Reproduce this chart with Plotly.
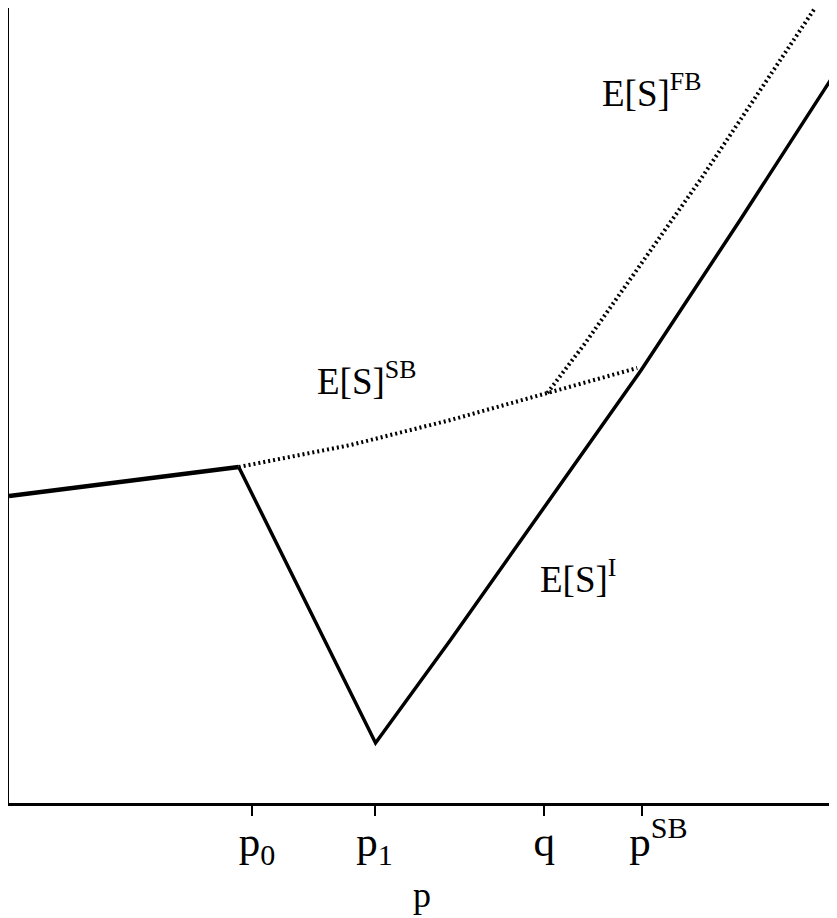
import plotly.graph_objects as go

# Abstract model values (x = p, y = expected surplus)
x_I = [0.0, 2.30, 3.67, 4.42, 5.35, 6.33, 7.32, 8.29]
y_I = [3.07, 3.36, 0.60, 1.63, 2.95, 4.33, 5.83, 7.33]

x_SB = [2.30, 3.42, 4.42, 5.39, 6.29]
y_SB = [3.36, 3.58, 3.83, 4.10, 4.35]

x_FB = [5.39, 5.77, 6.92, 8.07]
y_FB = [4.10, 4.60, 6.23, 7.95]

tick_vals = [2.43, 3.66, 5.36, 6.34]
tick_text = ["&nbsp;p<sub>0</sub>", "p<sub>1</sub>", "q", "&nbsp;&nbsp;&nbsp;p<sup>SB</sup>"]

font = "Liberation Serif"

fig = go.Figure()
fig.add_trace(go.Scatter(x=x_SB, y=y_SB, mode="lines",
                         line=dict(color="black", width=4, dash="2px,3px"),
                         hoverinfo="skip"))
fig.add_trace(go.Scatter(x=x_FB, y=y_FB, mode="lines",
                         line=dict(color="black", width=4, dash="2px,3px"),
                         hoverinfo="skip"))
fig.add_trace(go.Scatter(x=x_I[1:], y=y_I[1:], mode="lines",
                         line=dict(color="black", width=3.5),
                         hoverinfo="skip"))
fig.add_trace(go.Scatter(x=x_I[:2], y=y_I[:2], mode="lines",
                         line=dict(color="black", width=4.5),
                         hoverinfo="skip"))

labels = [
    (5.92, 6.87, "E[S]<sup>FB</sup>"),
    (3.06, 3.99, "E[S]<sup>SB</sup>"),
    (5.30, 2.01, "E[S]<sup>I</sup>"),
]
for lx, ly, lt in labels:
    fig.add_annotation(x=lx, y=ly, text=lt, showarrow=False, xanchor="left",
                       yanchor="bottom", font=dict(family=font, size=37, color="black"))

fig.add_annotation(x=4.13, y=-0.143, xref="x", yref="paper", text="p", showarrow=False,
                   xanchor="center", yanchor="bottom",
                   font=dict(family=font, size=36, color="black"))

fig.update_layout(
    width=829, height=910,
    margin=dict(l=1, r=0, t=0, b=115, autoexpand=False),
    paper_bgcolor="white", plot_bgcolor="white",
    showlegend=False,
    xaxis=dict(range=[0, 8.29], showgrid=False, zeroline=False,
               showline=True, linecolor="black", linewidth=3,
               ticks="outside", ticklen=10, tickwidth=2, tickcolor="black",
               tickvals=tick_vals, ticktext=tick_text, ticklabelstandoff=-12,
               tickfont=dict(family=font, size=43, color="black"),
               automargin=False),
    yaxis=dict(range=[0, 7.95], showgrid=False, zeroline=False,
               showline=True, linecolor="black", linewidth=2,
               showticklabels=False, ticks="", automargin=False),
)

fig.write_html("out.html")
